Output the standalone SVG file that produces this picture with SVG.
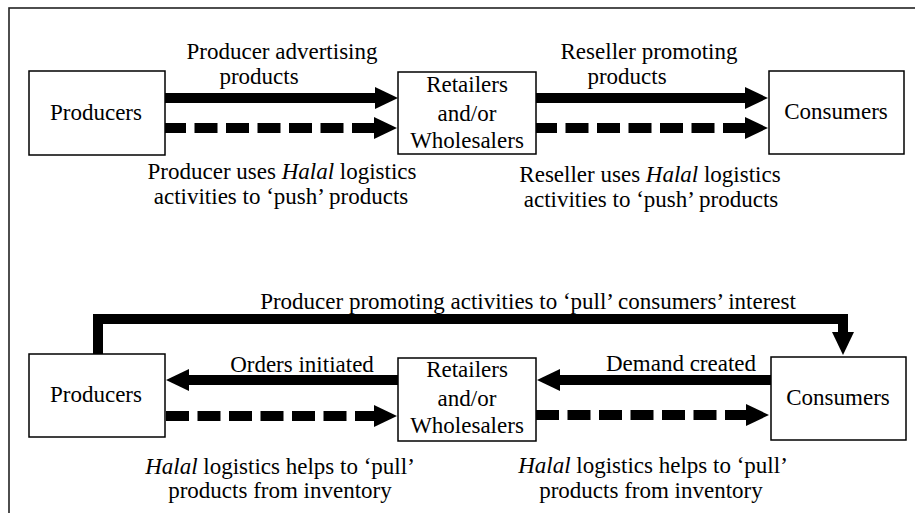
<svg xmlns="http://www.w3.org/2000/svg" width="915" height="513" viewBox="0 0 915 513">
  <style>
    .frame { fill: none; stroke: #222; stroke-width: 1.6; }
    .box { fill: #fff; stroke: #000; stroke-width: 1.5; }
    text { font-family: 'Liberation Serif', 'DejaVu Serif', serif; font-size: 23px; fill: #000; text-anchor: middle; }
    .it { font-style: italic; }
    .solid { fill: none; stroke: #000; stroke-width: 10; stroke-linecap: butt; stroke-linejoin: miter; }
    .dash { fill: none; stroke: #000; stroke-width: 10; stroke-dasharray: 23 8.5; stroke-linecap: butt; }
  </style>
  <defs>
    <marker id="head" markerUnits="userSpaceOnUse" markerWidth="24" markerHeight="24" refX="0" refY="11" orient="auto" viewBox="0 0 24 22">
      <path d="M0,0 L23,11 L0,22 Z" fill="#000"/>
    </marker>
  </defs>

  <rect width="915" height="513" fill="#fff"/>
  <!-- outer frame, running off the right and bottom edges -->
  <rect class="frame" x="9" y="8" width="930" height="530"/>

  <!-- connectors -->
  <g id="connectors">
    <!-- push strategy -->
    <path class="solid" d="M165,98 H375" marker-end="url(#head)"/>
    <path class="dash" d="M163,128 H374" marker-end="url(#head)"/>
    <path class="solid" d="M536,98 H745" marker-end="url(#head)"/>
    <path class="dash" d="M534,128 H745" marker-end="url(#head)"/>
    <!-- pull strategy -->
    <path class="solid" d="M98,354 V319 H843 V332" marker-end="url(#head)"/>
    <path class="solid" d="M398,380 H189" marker-end="url(#head)"/>
    <path class="dash" d="M166,416 H374" marker-end="url(#head)"/>
    <path class="solid" d="M771,380 H560" marker-end="url(#head)"/>
    <path class="dash" d="M536,415 H746" marker-end="url(#head)"/>
  </g>

  <!-- push: nodes -->
  <g id="push-producers">
    <rect class="box" x="29" y="71" width="136" height="84"/>
    <text x="96" y="120" font-family="Liberation Serif, serif">Producers</text>
  </g>
  <g id="push-resellers">
    <rect class="box" x="398" y="72" width="138" height="82"/>
    <text x="467" y="92">Retailers</text>
    <text x="467" y="121">and/or</text>
    <text x="467" y="148">Wholesalers</text>
  </g>
  <g id="push-consumers">
    <rect class="box" x="769" y="71" width="135" height="83"/>
    <text x="836" y="119">Consumers</text>
  </g>

  <!-- push: labels -->
  <g id="push-labels">
    <text x="282" y="59">Producer advertising</text>
    <text x="259" y="84">products</text>
    <text x="649" y="59">Reseller promoting</text>
    <text x="627" y="84">products</text>
    <text x="282" y="179">Producer uses <tspan class="it">Halal</tspan> logistics</text>
    <text x="281" y="204">activities to ‘push’ products</text>
    <text x="650" y="182">Reseller uses <tspan class="it">Halal</tspan> logistics</text>
    <text x="651" y="207">activities to ‘push’ products</text>
  </g>

  <!-- pull: nodes -->
  <g id="pull-producers">
    <rect class="box" x="29" y="354" width="136" height="83"/>
    <text x="96" y="402">Producers</text>
  </g>
  <g id="pull-resellers">
    <rect class="box" x="398" y="358" width="138" height="83"/>
    <text x="467" y="377">Retailers</text>
    <text x="467" y="406">and/or</text>
    <text x="467" y="433">Wholesalers</text>
  </g>
  <g id="pull-consumers">
    <rect class="box" x="771" y="357" width="135" height="83"/>
    <text x="838" y="405">Consumers</text>
  </g>

  <!-- pull: labels -->
  <g id="pull-labels">
    <text x="528" y="309">Producer promoting activities to ‘pull’ consumers’ interest</text>
    <text x="302" y="372">Orders initiated</text>
    <text x="681" y="371">Demand created</text>
    <text x="280" y="474"><tspan class="it">Halal</tspan> logistics helps to ‘pull’</text>
    <text x="280" y="498">products from inventory</text>
    <text x="653" y="473"><tspan class="it">Halal</tspan> logistics helps to ‘pull’</text>
    <text x="651" y="498">products from inventory</text>
  </g>
</svg>
